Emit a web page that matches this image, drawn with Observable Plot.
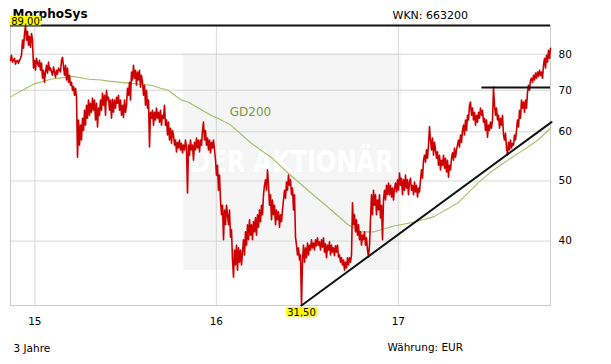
<!DOCTYPE html>
<html><head><meta charset="utf-8">
<script src="https://cdn.jsdelivr.net/npm/d3@7"></script>
<script src="https://cdn.jsdelivr.net/npm/@observablehq/plot@0.6"></script>
<style>
body{margin:0;background:#fff;overflow:hidden}
#wrap{position:relative;width:611px;height:364px}
#wm{position:absolute;left:183px;top:53px;width:218px;height:217px;background:#f5f5f5}
#chart{position:absolute;left:0;top:0}
</style></head><body>
<div id="wrap"><div id="wm"><svg width="218" height="217"><text x="109" y="0" text-anchor="middle" transform="translate(0,119) scale(1,1.25)" font-family="DejaVu Sans" font-weight="bold" font-size="24" fill="#ffffff">DER AKTIONÄR</text></svg></div><div id="chart"></div></div>
<script>
// ---- data ----
const title = "MorphoSys";
const wkn = "WKN: 663200";
const period = "3 Jahre";
const currency = "Währung: EUR";
const priceStart = "2014-11-13";
const priceEnd = "2017-11-03";
const priceValues = [
78.2,79.7,77.7,78.2,78.8,77.1,78.0,78.2,77.4,78.2,
78.8,79.7,84.3,81.8,86.4,89.0,84.3,87.1,82.7,85.5,
82.1,86.4,84.3,76.0,78.2,75.4,78.8,77.4,76.5,78.2,
75.4,77.4,73.2,75.4,72.1,74.9,76.8,74.6,77.7,75.4,
76.0,74.9,74.0,76.3,74.9,73.4,75.4,74.3,76.0,75.4,
74.9,78.2,79.1,76.5,74.0,76.8,72.7,76.0,72.1,74.0,
71.3,72.1,70.0,71.0,68.7,70.5,68.2,54.6,62.7,57.1,
61.5,58.2,63.1,60.3,65.0,61.5,66.2,63.1,67.5,63.8,
66.7,64.5,68.0,65.0,67.5,62.7,66.7,61.1,65.5,63.8,
67.5,65.0,69.2,66.2,68.7,63.8,70.0,67.5,68.2,65.0,
67.5,63.1,67.7,64.5,67.5,65.5,68.2,66.7,68.7,65.0,
67.5,63.8,66.2,63.3,67.5,64.5,66.2,70.5,68.7,72.1,
67.5,74.9,72.7,76.8,73.2,75.4,71.3,74.9,72.7,75.4,
70.8,74.0,72.1,68.7,71.3,66.2,70.0,65.5,67.5,56.7,
64.5,63.1,65.0,61.5,64.5,62.7,65.5,63.1,64.5,62.2,
65.0,61.5,63.8,63.1,66.2,61.5,62.7,59.3,62.2,58.2,
60.8,57.5,60.3,59.3,57.1,58.2,55.7,57.7,56.5,58.2,
56.1,57.5,55.5,57.1,56.1,58.2,56.5,47.8,57.1,55.0,
58.2,56.1,57.1,54.0,57.7,56.1,58.6,56.5,58.2,55.7,
58.2,57.1,60.3,62.2,58.2,60.3,57.1,58.6,56.1,58.2,
55.5,57.7,56.5,58.2,56.1,54.0,51.1,53.0,48.3,51.1,
46.6,44.1,45.7,40.2,44.9,42.5,45.7,44.1,42.5,44.9,
40.6,41.7,37.3,35.0,38.7,36.6,39.4,35.9,39.0,37.0,
38.7,36.6,38.4,40.2,38.0,41.4,39.4,42.5,40.2,43.3,
40.9,42.5,40.2,43.0,41.4,43.6,40.9,44.1,42.1,44.9,
43.0,45.7,44.1,47.5,49.2,50.2,48.3,52.1,49.2,45.7,
47.5,43.3,46.6,44.1,45.7,42.5,44.9,43.3,44.6,42.1,
44.1,43.0,44.9,46.6,48.3,46.9,49.8,48.3,51.1,49.2,
50.2,47.5,48.7,44.9,47.5,40.6,39.4,38.0,39.0,37.3,
38.0,31.5,37.3,39.4,37.0,39.0,37.6,39.7,38.0,39.4,
38.7,40.2,39.0,39.7,38.7,40.2,39.3,40.5,39.4,39.9,
38.7,40.2,39.1,40.5,38.4,39.6,37.6,39.4,38.7,39.9,
38.0,39.4,38.4,39.0,37.9,39.3,38.4,39.4,37.7,38.0,
37.0,37.6,36.6,37.3,35.9,37.0,36.2,37.6,36.6,37.6,
37.0,38.0,46.1,42.5,44.1,41.4,43.3,40.9,42.5,40.2,
41.4,39.4,40.9,40.2,41.4,39.4,40.5,38.7,37.7,39.4,
43.3,47.5,44.1,48.3,45.7,47.5,44.1,46.6,44.9,47.5,
43.6,45.7,40.2,46.6,48.3,46.6,49.2,47.5,49.6,47.5,
49.2,47.1,48.7,46.6,48.7,49.6,48.0,50.2,48.3,51.5,
49.2,50.5,47.5,50.2,48.3,51.1,48.7,50.2,47.5,49.8,
50.5,48.3,49.2,47.5,49.8,48.0,49.2,47.1,48.7,48.0,
50.2,52.1,50.5,54.0,55.0,53.6,56.1,54.4,57.1,61.1,
58.2,56.1,58.6,55.0,57.7,56.1,54.4,55.7,53.0,55.0,
52.1,54.0,53.0,55.0,52.4,54.4,51.7,54.0,50.7,53.0,
52.1,54.4,55.5,54.0,56.5,54.6,56.1,57.1,58.2,56.7,
59.3,57.7,60.3,61.5,59.3,62.7,60.3,63.8,62.7,66.2,
67.0,63.8,65.5,62.7,64.5,61.5,63.8,62.2,64.5,63.1,
65.5,63.8,65.0,62.2,63.1,60.3,62.7,58.8,61.5,60.3,
62.2,60.8,62.7,70.8,66.2,63.8,65.5,62.7,63.8,60.8,
63.1,61.5,63.8,59.3,58.2,59.7,56.5,55.0,57.7,56.1,
58.2,56.5,57.5,57.1,59.3,58.2,60.3,62.7,61.1,65.0,
63.1,67.5,65.5,67.0,64.5,67.5,65.5,69.5,71.3,70.0,
72.7,73.2,72.1,74.0,72.7,74.6,73.2,74.9,73.7,75.4,
74.0,74.9,73.2,76.8,78.8,76.0,79.7,77.7,81.2,78.8,
81.8
];
const gdDates = ["2014-11-13","2014-12-29","2015-02-02","2015-03-18","2015-04-20","2015-05-14","2015-05-30","2015-07-13","2015-08-23","2015-09-11","2015-09-26","2015-10-22","2015-11-05","2015-12-21","2016-01-04","2016-01-30","2016-03-11","2016-04-20","2016-05-24","2016-07-03","2016-08-12","2016-09-22","2016-10-18","2016-11-13","2016-12-23","2017-02-01","2017-03-14","2017-05-01","2017-06-10","2017-07-06","2017-08-15","2017-09-10","2017-10-09","2017-11-03"];
const gdValues = [68.3,71.6,72.9,73.7,72.9,72.7,72.4,71.8,71.3,70.5,70.0,67.5,67.0,63.8,63.1,61.5,57.5,54.6,51.5,48.3,45.4,42.5,41.4,41.4,42.3,42.9,43.8,46.1,49.6,51.7,54.4,56.1,58.2,60.8];
const gdLabel = {text: "GD200", date: "2016-01-28", value: 63.6};
const resistance = {from: "2017-06-18", to: "2017-11-03", value: 70.7};
const trendEnd = {date: "2017-11-05", value: 62.2};
const yTicks = [40, 50, 60, 70, 80];
const xTickDates = ["2015-01-01", "2016-01-01", "2017-01-01"];
const xTickLabels = ["15", "16", "17"];

// ---- build ----
const t0 = new Date(priceStart), t1 = new Date(priceEnd);
const n = priceValues.length;
const prices = priceValues.map((v, i) => ({date: new Date(+t0 + (t1 - t0) * i / (n - 1)), value: v}));
const gd = gdDates.map((d, i) => ({date: new Date(d), value: gdValues[i]}));
const hi = prices[d3.maxIndex(prices, d => d.value)];
const lo = prices[d3.minIndex(prices, d => d.value)];
const trend = [lo, {date: new Date(trendEnd.date), value: trendEnd.value}];
const xTicks = xTickDates.map(d => new Date(d));
const fmt = v => v.toFixed(2).replace(".", ",");
const grid = "#d6d6d6";

const chart = Plot.plot({
  width: 611, height: 364,
  marginLeft: 10, marginRight: 61, marginTop: 25, marginBottom: 59,
  style: {fontFamily: "'DejaVu Sans', Verdana, sans-serif", fontSize: "10.5px", color: "#000", background: "transparent", overflow: "visible"},
  x: {type: "utc", domain: [t0, t1]},
  y: {type: "log", domain: [lo.value, hi.value]},
  marks: [
    Plot.gridY(yTicks, {stroke: grid, strokeOpacity: 1}),
    Plot.gridX(xTicks, {stroke: grid, strokeOpacity: 1}),
    Plot.frame({stroke: "#cccccc"}),
    Plot.axisY(yTicks, {anchor: "right", tickSize: 0, tickPadding: 8, tickFormat: d => String(d), label: null}),
    Plot.axisX(xTicks, {anchor: "bottom", tickSize: 0, tickPadding: 12, tickFormat: (d, i) => xTickLabels[i], label: null}),
    Plot.lineY(gd, {x: "date", y: "value", stroke: "#a3bf66", strokeWidth: 1.1}),
    Plot.text([gdLabel], {x: d => new Date(d.date), y: "value", text: "text", fill: "#7d9640", fontSize: 12, textAnchor: "start", lineAnchor: "bottom"}),
    Plot.lineY(prices, {x: "date", y: "value", stroke: "#cc0000", strokeWidth: 1.6}),
    Plot.ruleY([hi.value], {stroke: "#111", strokeWidth: 2}),
    Plot.ruleY([resistance], {y: "value", x1: d => new Date(d.from), x2: d => new Date(d.to), stroke: "#111", strokeWidth: 2}),
    Plot.line(trend, {x: "date", y: "value", stroke: "#111", strokeWidth: 2, clip: false}),
    Plot.text([title], {text: d => d, frameAnchor: "top-left", dx: 2, dy: -8, lineAnchor: "bottom", textAnchor: "start", fontWeight: "bold", fontSize: 12}),
    Plot.text([wkn], {text: d => d, frameAnchor: "top-right", dx: -158, dy: -7, lineAnchor: "bottom", textAnchor: "start", fontSize: 11}),
    Plot.text([period], {text: d => d, frameAnchor: "bottom-left", dx: 3, dy: 46, lineAnchor: "bottom", textAnchor: "start", fontSize: 10.5}),
    Plot.text([currency], {text: d => d, frameAnchor: "bottom-right", dx: -163, dy: 45, lineAnchor: "bottom", textAnchor: "start", fontSize: 10.5}),
    Plot.text([hi], {x: "date", y: "value", text: d => fmt(d.value), lineAnchor: "bottom", dy: -1, fontSize: 10, fill: "#000"}),
    Plot.text([lo], {x: "date", y: "value", text: d => fmt(d.value), lineAnchor: "top", dy: 3, fontSize: 10, fill: "#000"})
  ]
});
document.getElementById("chart").append(chart);

// yellow boxes behind the high / low value labels
d3.select(chart).selectAll("text")
  .filter(function() { return /^\d+,\d\d$/.test(this.textContent); })
  .each(function() {
    const node = this;
    const b = node.getBBox();
    const r = d3.select(node.parentNode).insert("rect", () => node)
      .attr("x", b.x - 1).attr("y", b.y + 0.3)
      .attr("width", b.width + 2).attr("height", b.height - 1.4)
      .attr("fill", "#ffff00");
    const tr = node.getAttribute("transform");
    if (tr) r.attr("transform", tr);
  });
</script>
</body></html>
